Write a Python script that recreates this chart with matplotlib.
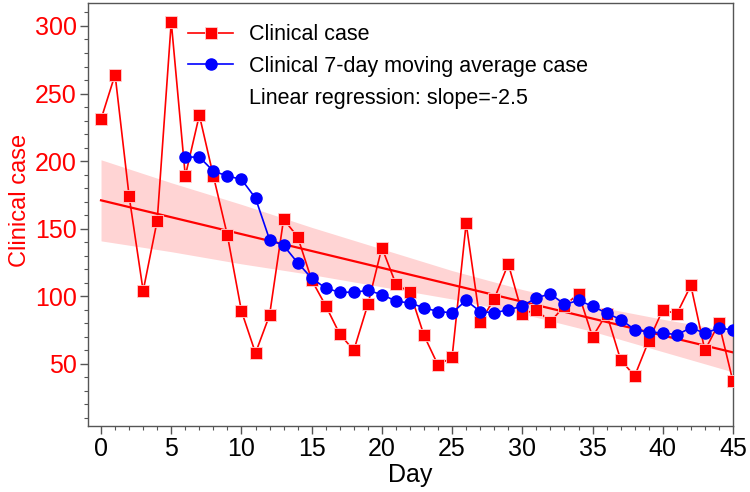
import numpy as np
import matplotlib
matplotlib.use("Agg")
import matplotlib.pyplot as plt
from matplotlib.ticker import MultipleLocator

plt.rcParams['font.family'] = ['Liberation Sans', 'DejaVu Sans']

# data
days = list(range(0, 46))
clinical = [231, 264, 174, 104, 156, 303, 189, 234, 189, 145,
            89, 58, 86, 157, 144, 112, 93, 72, 60, 94,
            136, 109, 103, 71, 49, 55, 154, 81, 98, 124,
            87, 90, 81, 93, 102, 70, 87, 53, 41, 67,
            90, 87, 108, 60, 80, 37]
ma_days = list(range(6, 46))
moving_avg = [203, 203, 192.6, 189, 186.5, 172.6, 142, 137.6, 124.8, 113.4,
              106, 103, 103, 104.3, 101.3, 96.4, 95, 91.5, 88.7, 87.8,
              96.9, 88.7, 87.8, 90, 92.7, 98.9, 101.8, 94, 96.9, 92.7,
              87.5, 82.8, 75.4, 73.4, 73, 71.5, 76.7, 72.7, 76.4, 75.2]

# regression line and its confidence band, read at every 5 days
fit_days = [0, 5, 10, 15, 20, 25, 30, 35, 40, 45]
fit_line = [171, 158.5, 146, 133.5, 121, 108.5, 96, 83.5, 71, 58.5]
band_upper = [201, 184, 168, 151, 135, 119, 105, 93, 83, 74]
band_lower = [141, 133, 124, 116, 107, 98, 87, 74, 59, 44]
slope_text = 'Linear regression: slope=-2.5'

red = '#ff0000'
blue = '#0000ff'

fig = plt.figure(figsize=(7.5, 4.92), dpi=100)
ax = fig.add_axes([0.1173, 0.1341, 0.86, 0.8598])

ax.fill_between(fit_days, band_lower, band_upper, color='#ffd4d4', lw=0, zorder=1)
ax.plot(fit_days, fit_line, color=red, lw=1.6, zorder=2)

ax.plot(days, clinical, color=red, lw=1.2, marker='s', ms=8.5,
        mfc=red, mec='#ffd0d0', mew=0.6, zorder=3, label='Clinical case')
ax.plot(ma_days, moving_avg, color=blue, lw=1.2, marker='o', ms=8,
        mfc=blue, mec=blue, zorder=4, label='Clinical 7-day moving average case')
ax.plot([], [], ' ', label=slope_text)

ax.set_xlim(-0.93, 45)
ax.set_ylim(4, 317)
ax.xaxis.set_major_locator(MultipleLocator(5))
ax.xaxis.set_minor_locator(MultipleLocator(1))
ax.yaxis.set_minor_locator(MultipleLocator(10))
ax.set_yticks([50, 100, 150, 200, 250, 300])

spine_c = '#555555'
for sp in ax.spines.values():
    sp.set_color(spine_c)
    sp.set_linewidth(1.0)
ax.tick_params(which='major', direction='out', length=6, width=1, color=spine_c, labelsize=18)
ax.tick_params(which='minor', direction='out', length=3, width=0.8, color=spine_c)
ax.tick_params(axis='y', labelcolor=red, pad=2)
ax.tick_params(axis='x', pad=2)

ax.set_xlabel('Day', fontsize=18, labelpad=1)
ax.set_ylabel('Clinical case', fontsize=17, color=red)
ax.yaxis.set_label_coords(-0.089, 0.534)

leg = ax.legend(loc='upper left', bbox_to_anchor=(0.155, 0.95), frameon=False,
                fontsize=15.5, handlelength=2.1, handletextpad=0.75, labelspacing=0.5,
                borderpad=0, borderaxespad=0)

fig.savefig('out.png', dpi=100)
